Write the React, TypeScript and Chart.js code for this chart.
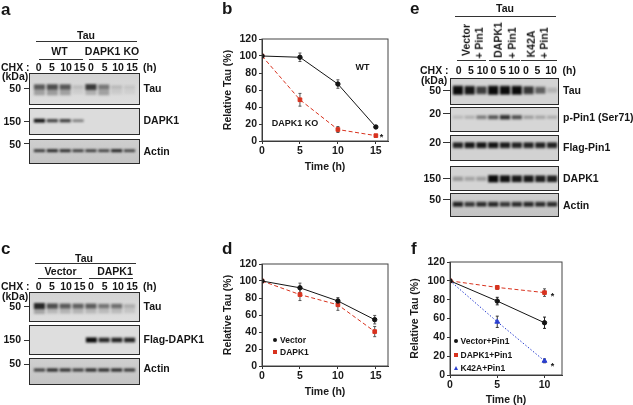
import React, { useEffect, useRef } from "react";
import { Chart, registerables } from "chart.js";

Chart.register(...registerables);

const FONT = '"Liberation Sans", Arial, sans-serif';

// ---------- curve data ----------
const timesB = [0, 5, 10, 15];
const bWT = [100, 98.5, 67, 16.5];
const bWTErr = [0, 5, 5, 1.5];
const bKO = [100, 48.5, 13.5, 6.3];
const bKOErr = [0, 7.5, 3.5, 1];

const timesD = [0, 5, 10, 14.85];
const dVector = [100, 92, 76.5, 54.5];
const dVectorErr = [0, 5.5, 4, 5];
const dDAPK1 = [100, 84, 72, 40.5];
const dDAPK1Err = [0, 7, 6.5, 6];

const timesF = [0, 5, 10];
const fVector = [100, 78.5, 55.5];
const fVectorErr = [0, 4, 6];
const fDAPK1 = [100, 93, 87.5];
const fDAPK1Err = [0, 2, 4];
const fK42A = [100, 56.5, 15];
const fK42AErr = [0, 6, 2];

const xTicks15 = [0, 5, 10, 15];
const xTicks10 = [0, 5, 10];

// ---------- blot band intensities, one per lane ----------
const aTau = [0.48, 0.56, 0.5, 0.08, 0.72, 0.28, 0.08, 0.05];
const aTauSmear = [0.32, 0.35, 0.32, 0.07, 0.25, 0.32, 0.09, 0.06];
const aDAPK1 = [0.9, 0.68, 0.7, 0.42, 0, 0, 0, 0];
const aActin = [0.72, 0.8, 0.78, 0.7, 0.7, 0.68, 0.82, 0.66];
const cTau = [0.82, 0.6, 0.52, 0.48, 0.52, 0.38, 0.42, 0.12];
const cTauSmear = [0.3, 0.2, 0.22, 0.22, 0.2, 0.18, 0.18, 0.12];
const cFlag = [0, 0, 0, 0, 0.95, 0.8, 0.82, 0.82];
const cActin = [0.7, 0.8, 0.78, 0.72, 0.8, 0.8, 0.8, 0.74];
const eTau = [1, 0.9, 0.72, 1, 0.95, 0.95, 0.75, 0.55, 0.16];
const ePPin = [0.16, 0.2, 0.45, 0.62, 0.8, 0.65, 0.3, 0.26, 0.22];
const eFlag = [0.85, 0.9, 0.9, 0.92, 0.88, 0.85, 0.85, 0.85, 0.85];
const eDAPK1 = [0.28, 0.22, 0.25, 1, 0.92, 0.88, 0.88, 0.85, 0.85];
const eActin = [0.85, 0.75, 0.8, 0.82, 0.75, 0.8, 0.82, 0.8, 0.8];

const laneLabels4 = ["0", "5", "10", "15"];
const laneLabelsE = ["0", "5", "10"];

type Rect = { l: number; t: number; r: number; b: number };

const frameBox = {
  id: "frameBox",
  afterDatasetsDraw(c: any) {
    const { left, top, width, height } = c.chartArea;
    c.ctx.save();
    c.ctx.strokeStyle = "#444";
    c.ctx.lineWidth = 1;
    c.ctx.strokeRect(left, top, width, height);
    c.ctx.restore();
  },
};

const errorBars = {
  id: "errorBars",
  beforeDatasetsDraw(c: any) {
    const { ctx, scales } = c;
    ctx.save();
    c.data.datasets.forEach((d: any) => {
      ctx.strokeStyle = d.errColor || "#555";
      ctx.lineWidth = 1;
      d.data.forEach((p: any, i: number) => {
        const e = d.err[i];
        if (!e) return;
        const x = scales.x.getPixelForValue(p.x);
        const y1 = scales.y.getPixelForValue(p.y - e);
        const y2 = scales.y.getPixelForValue(p.y + e);
        ctx.beginPath();
        ctx.moveTo(x, y1);
        ctx.lineTo(x, y2);
        ctx.moveTo(x - 1.5, y1);
        ctx.lineTo(x + 1.5, y1);
        ctx.moveTo(x - 1.5, y2);
        ctx.lineTo(x + 1.5, y2);
        ctx.stroke();
      });
    });
    ctx.restore();
  },
};

const series = (
  label: string,
  xs: number[],
  ys: number[],
  err: number[],
  color: string,
  dash: number[],
  pointStyle: string,
  radius: number,
  errColor: string,
) => ({
  label,
  data: xs.map((x, i) => ({ x, y: ys[i] })),
  err,
  errColor,
  borderColor: color,
  backgroundColor: color,
  borderDash: dash,
  borderWidth: 1,
  pointStyle,
  pointRadius: radius,
  tension: 0,
});

function Curve({ box, plot, xMax, xTicks, datasets }: { box: Rect; plot: Rect; xMax: number; xTicks: number[]; datasets: any[] }) {
  const ref = useRef<HTMLCanvasElement>(null);
  useEffect(() => {
    const tickFont = { family: FONT, size: 10.5, weight: "bold" as const };
    const chart = new Chart(ref.current!, {
      type: "line",
      data: { datasets },
      options: {
        animation: false,
        responsive: false,
        devicePixelRatio: 1,
        layout: { padding: { top: plot.t - box.t, right: box.r - plot.r, left: 0, bottom: 0 } },
        plugins: { legend: { display: false }, tooltip: { enabled: false } },
        scales: {
          x: {
            type: "linear",
            min: 0,
            max: xMax,
            afterFit: (s: any) => {
              s.height = box.b - plot.b;
            },
            afterBuildTicks: (s: any) => {
              s.ticks = xTicks.map((value) => ({ value }));
            },
            ticks: { autoSkip: false, color: "#1a1a1a", font: tickFont, padding: 1, maxRotation: 0 },
            grid: { drawOnChartArea: false, tickLength: 3, color: "#333" },
            border: { color: "#333" },
            title: { display: true, text: "Time (h)", color: "#1a1a1a", font: tickFont, padding: { top: 0, bottom: 2 } },
          },
          y: {
            min: 0,
            max: 120,
            afterFit: (s: any) => {
              s.width = plot.l - box.l;
            },
            ticks: { stepSize: 20, color: "#1a1a1a", font: tickFont, padding: 2 },
            grid: { drawOnChartArea: false, tickLength: 3, color: "#333" },
            border: { color: "#333" },
            title: { display: true, text: "Relative Tau (%)", color: "#1a1a1a", font: tickFont, padding: { top: 2, bottom: 0 } },
          },
        },
      } as any,
      plugins: [frameBox, errorBars],
    });
    return () => chart.destroy();
  }, []);
  return (
    <canvas
      ref={ref}
      width={box.r - box.l}
      height={box.b - box.t}
      style={{ position: "absolute", left: box.l, top: box.t, width: box.r - box.l, height: box.b - box.t, filter: "blur(0.35px)" }}
    />
  );
}

function Blot({ l, t, r, b, padL, padR, center, thick, values, smear, bg, blur = 0.9 }: any) {
  const ref = useRef<HTMLCanvasElement>(null);
  const w = r - l;
  const h = b - t;
  useEffect(() => {
    const band = (v: number, k: number, dy: number) => [center + dy - k * (0.45 + 0.55 * v), center + dy + k * (0.45 + 0.55 * v)];
    const datasets: any[] = [];
    if (smear) {
      datasets.push({
        data: smear.map((v: number) => band(v, thick * 2.6, thick * 0.8)),
        backgroundColor: smear.map((v: number) => `rgba(40,40,40,${v})`),
        grouped: false,
        barPercentage: 0.85,
        categoryPercentage: 1,
      });
    }
    datasets.push({
      data: values.map((v: number) => band(v, thick, 0)),
      backgroundColor: values.map((v: number) => `rgba(10,10,10,${Math.min(1, v * (v > 0 ? 1.05 : 0))})`),
      grouped: false,
      barPercentage: 0.86,
      categoryPercentage: 1,
    });
    const chart = new Chart(ref.current!, {
      type: "bar",
      data: { labels: values.map((_: number, i: number) => String(i)), datasets },
      options: {
        animation: false,
        responsive: false,
        devicePixelRatio: 1,
        layout: { padding: { left: padL, right: padR, top: 0, bottom: 0 } },
        plugins: { legend: { display: false }, tooltip: { enabled: false } },
        scales: {
          x: { display: false },
          y: { display: false, min: 0, max: h, reverse: true },
        },
      } as any,
    });
    return () => chart.destroy();
  }, []);
  return (
    <div
      style={{
        position: "absolute",
        left: l,
        top: t,
        width: w,
        height: h,
        boxSizing: "border-box",
        border: "1px solid #2a2a2a",
        background: bg,
        overflow: "hidden",
      }}
    >
      <canvas
        ref={ref}
        width={w}
        height={h}
        style={{ position: "absolute", left: -1, top: -1, width: w, height: h, filter: `blur(${blur}px)` }}
      />
    </div>
  );
}

const T = ({ x, y, s = 10.5, a = "c", rot = 0, children, w = "bold" }: any) => {
  const tx = a === "c" ? "-50%" : a === "r" ? "-100%" : "0";
  return (
    <div
      style={{
        position: "absolute",
        left: x,
        top: y,
        transform: `translate(${tx},-50%) rotate(${rot}deg)`,
        fontFamily: FONT,
        fontWeight: w,
        fontSize: s,
        lineHeight: 1,
        color: "#161616",
        whiteSpace: "nowrap",
        filter: "blur(0.3px)",
      }}
    >
      {children}
    </div>
  );
};

const HL = ({ x1, x2, y }: any) => (
  <div style={{ position: "absolute", left: x1, top: y, width: x2 - x1, height: 1, background: "#333" }} />
);

const Dot = ({ x, y, c, shape = "c" }: any) => (
  <div
    style={{
      position: "absolute",
      left: x - 2,
      top: y - 2,
      width: 4,
      height: 4,
      background: shape === "t" ? "transparent" : c,
      borderRadius: shape === "c" ? 2 : 0,
      ...(shape === "t"
        ? { width: 0, height: 0, borderLeft: "2px solid transparent", borderRight: "2px solid transparent", borderBottom: `4px solid ${c}` }
        : {}),
    }}
  />
);

const Mw = ({ y, label, tickY }: any) => (
  <>
    <T x={21} y={y} a="r">{label}</T>
    <HL x1={24} x2={29.5} y={tickY ?? y} />
  </>
);
const MwE = ({ y, label, tickY }: any) => (
  <>
    <T x={441} y={y} a="r">{label}</T>
    <HL x1={443} x2={450} y={tickY ?? y} />
  </>
);

const BLACK = "#141414";
const RED = "#d8321e";
const BLUE = "#2a3fd0";
const BG = "linear-gradient(#d4d4d4,#dedede)";
const BG2 = "linear-gradient(#cfcfcf,#c4c4c4)";

export default function App() {
  const aLanes = [38.7, 52, 66, 79.7, 91, 104.7, 118, 132];
  const eLanes = [458.7, 471, 482.5, 493.5, 503, 514, 526, 537.5, 551];
  const laneA = [...laneLabels4, ...laneLabels4];
  const laneE = [...laneLabelsE, ...laneLabelsE, ...laneLabelsE];
  return (
    <div style={{ position: "fixed", left: 0, top: 0, width: 633, height: 405, background: "#fff", overflow: "hidden" }}>
      {/* Panel a */}
      <T x={1} y={9} s={17} a="l">a</T>
      <T x={86} y={35}>Tau</T>
      <HL x1={36} x2={137} y={41} />
      <T x={59.5} y={51}>WT</T>
      <HL x1={39} x2={83} y={59} />
      <T x={112} y={51}>DAPK1 KO</T>
      <HL x1={88.5} x2={138} y={59} />
      <T x={1} y={67} a="l">CHX :</T>
      {laneA.map((s, i) => <T key={i} x={aLanes[i]} y={67}>{s}</T>)}
      <T x={143} y={67} a="l">(h)</T>
      <T x={2} y={76} a="l">(kDa)</T>
      <Mw y={87.5} label="50" tickY={88} />
      <Mw y={121} label="150" />
      <Mw y={143.5} label="50" tickY={143} />
      <T x={143.5} y={87.5} a="l">Tau</T>
      <T x={143.5} y={120} a="l">DAPK1</T>
      <T x={143.5} y={151} a="l">Actin</T>
      <Blot l={29} t={73} r={140} b={105} padL={4} padR={4} center={14} thick={3.4} values={aTau} smear={aTauSmear} bg={BG} blur={1.3} />
      <Blot l={29} t={108} r={140} b={135} padL={4} padR={4} center={12.7} thick={2} values={aDAPK1} bg={"#dcdcdc"} />
      <Blot l={29} t={139} r={140} b={164} padL={4} padR={4} center={11.7} thick={1.7} values={aActin} bg={BG2} />

      {/* Panel c */}
      <T x={1} y={248} s={17} a="l">c</T>
      <T x={84} y={257.5}>Tau</T>
      <HL x1={35} x2={136} y={263} />
      <T x={60.5} y={271}>Vector</T>
      <HL x1={37.5} x2={82} y={277.5} />
      <T x={115} y={271}>DAPK1</T>
      <HL x1={88.5} x2={133} y={277.5} />
      <T x={1} y={285.5} a="l">CHX :</T>
      {laneA.map((s, i) => <T key={i} x={aLanes[i]} y={285.5}>{s}</T>)}
      <T x={143} y={285.5} a="l">(h)</T>
      <T x={2} y={296} a="l">(kDa)</T>
      <Mw y={305.5} label="50" tickY={306} />
      <Mw y={339} label="150" tickY={340} />
      <Mw y={363} label="50" tickY={364} />
      <T x={143.5} y={305.5} a="l">Tau</T>
      <T x={143.5} y={338.5} a="l">Flag-DAPK1</T>
      <T x={143.5} y={368} a="l">Actin</T>
      <Blot l={29} t={292} r={140} b={322} padL={4} padR={4} center={14} thick={3.3} values={cTau} smear={cTauSmear} bg={BG} blur={1.3} />
      <Blot l={29} t={325} r={140} b={355} padL={5} padR={4} center={15} thick={2.6} values={cFlag} bg={"#dedede"} />
      <Blot l={29} t={358} r={140} b={385} padL={4} padR={4} center={12} thick={1.8} values={cActin} bg={BG2} />

      {/* Panel b */}
      <T x={222} y={8} s={17} a="l">b</T>
      <Curve
        box={{ l: 220, t: 28, r: 395, b: 175 }}
        plot={{ l: 262, t: 39, r: 388, b: 141 }}
        xMax={16.6}
        xTicks={xTicks15}
        datasets={[
          series("WT", timesB, bWT, bWTErr, BLACK, [], "circle", 2.2, "#555"),
          series("DAPK1 KO", timesB, bKO, bKOErr, RED, [4, 2.5], "rect", 2.6, "#555"),
        ]}
      />
      <T x={362.5} y={66.5} s={9}>WT</T>
      <T x={295} y={122.5} s={9}>DAPK1 KO</T>
      <T x={381.5} y={137} s={9}>*</T>

      {/* Panel d */}
      <T x={222} y={248} s={17} a="l">d</T>
      <Curve
        box={{ l: 220, t: 253, r: 395, b: 400 }}
        plot={{ l: 262, t: 264, r: 388, b: 366 }}
        xMax={16.6}
        xTicks={xTicks15}
        datasets={[
          series("Vector", timesD, dVector, dVectorErr, BLACK, [], "circle", 2.2, "#555"),
          series("DAPK1", timesD, dDAPK1, dDAPK1Err, RED, [4, 2.5], "rect", 2.6, "#555"),
        ]}
      />
      <Dot x={275} y={339.5} c={BLACK} />
      <T x={280} y={339.5} s={8.5} a="l">Vector</T>
      <Dot x={275} y={352} c={RED} shape="r" />
      <T x={280} y={352} s={8.5} a="l">DAPK1</T>

      {/* Panel e */}
      <T x={410} y={8} s={17} a="l">e</T>
      <T x={505} y={8}>Tau</T>
      <HL x1={455} x2={556} y={16} />
      <T x={465.5} y={40} rot={-90}>Vector</T>
      <T x={479} y={43} rot={-90}>+ Pin1</T>
      <T x={498} y={40} rot={-90}>DAPK1</T>
      <T x={511.5} y={43} rot={-90}>+ Pin1</T>
      <T x={531} y={44} rot={-90}>K42A</T>
      <T x={544} y={43} rot={-90}>+ Pin1</T>
      <HL x1={456.5} x2={486} y={60} />
      <HL x1={488.5} x2={519.5} y={60} />
      <HL x1={521} x2={556.5} y={60} />
      <T x={420} y={70} a="l">CHX :</T>
      {laneE.map((s, i) => <T key={i} x={eLanes[i]} y={70}>{s}</T>)}
      <T x={562.5} y={70} a="l">(h)</T>
      <T x={421} y={80} a="l">(kDa)</T>
      <MwE y={90} label="50" />
      <MwE y={112.5} label="20" />
      <MwE y={142} label="20" />
      <MwE y={178} label="150" />
      <MwE y={198.5} label="50" />
      <T x={563} y={90} a="l">Tau</T>
      <T x={563} y={117} a="l">p-Pin1 (Ser71)</T>
      <T x={563} y={147} a="l">Flag-Pin1</T>
      <T x={563} y={178} a="l">DAPK1</T>
      <T x={563} y={204.5} a="l">Actin</T>
      <Blot l={450} t={78} r={559} b={104.5} padL={2} padR={1} center={12} thick={4.4} values={eTau} bg={"#d4d4d4"} />
      <Blot l={450} t={107} r={559} b={131.5} padL={2} padR={1} center={10} thick={2.4} values={ePPin} bg={"#d6d6d6"} blur={1.1} />
      <Blot l={450} t={135} r={559} b={160.5} padL={2} padR={1} center={10} thick={3} values={eFlag} bg={"#d2d2d2"} />
      <Blot l={450} t={165.5} r={559} b={190.5} padL={2} padR={1} center={12.8} thick={3.6} values={eDAPK1} bg={"#d4d4d4"} />
      <Blot l={450} t={193} r={559} b={216.5} padL={2} padR={1} center={11} thick={2.6} values={eActin} bg={BG2} />

      {/* Panel f */}
      <T x={411} y={248} s={17} a="l">f</T>
      <Curve
        box={{ l: 407, t: 252, r: 570, b: 408 }}
        plot={{ l: 450, t: 262, r: 562, b: 375 }}
        xMax={11.85}
        xTicks={xTicks10}
        datasets={[
          series("Vector+Pin1", timesF, fVector, fVectorErr, BLACK, [], "circle", 2.2, "#222"),
          series("DAPK1+Pin1", timesF, fDAPK1, fDAPK1Err, RED, [4, 2.5], "rect", 2.6, "#555"),
          series("K42A+Pin1", timesF, fK42A, fK42AErr, BLUE, [1.5, 1.8], "triangle", 2.8, "#333"),
        ]}
      />
      <Dot x={456} y={341} c={BLACK} />
      <T x={460.5} y={341} s={8.5} a="l">Vector+Pin1</T>
      <Dot x={456} y={354.5} c={RED} shape="r" />
      <T x={460.5} y={354.5} s={8.5} a="l">DAPK1+Pin1</T>
      <Dot x={456} y={368} c={BLUE} shape="t" />
      <T x={460.5} y={368} s={8.5} a="l">K42A+Pin1</T>
      <T x={552.5} y={295.5} s={9}>*</T>
      <T x={552.5} y={365.5} s={9}>*</T>
    </div>
  );
}
